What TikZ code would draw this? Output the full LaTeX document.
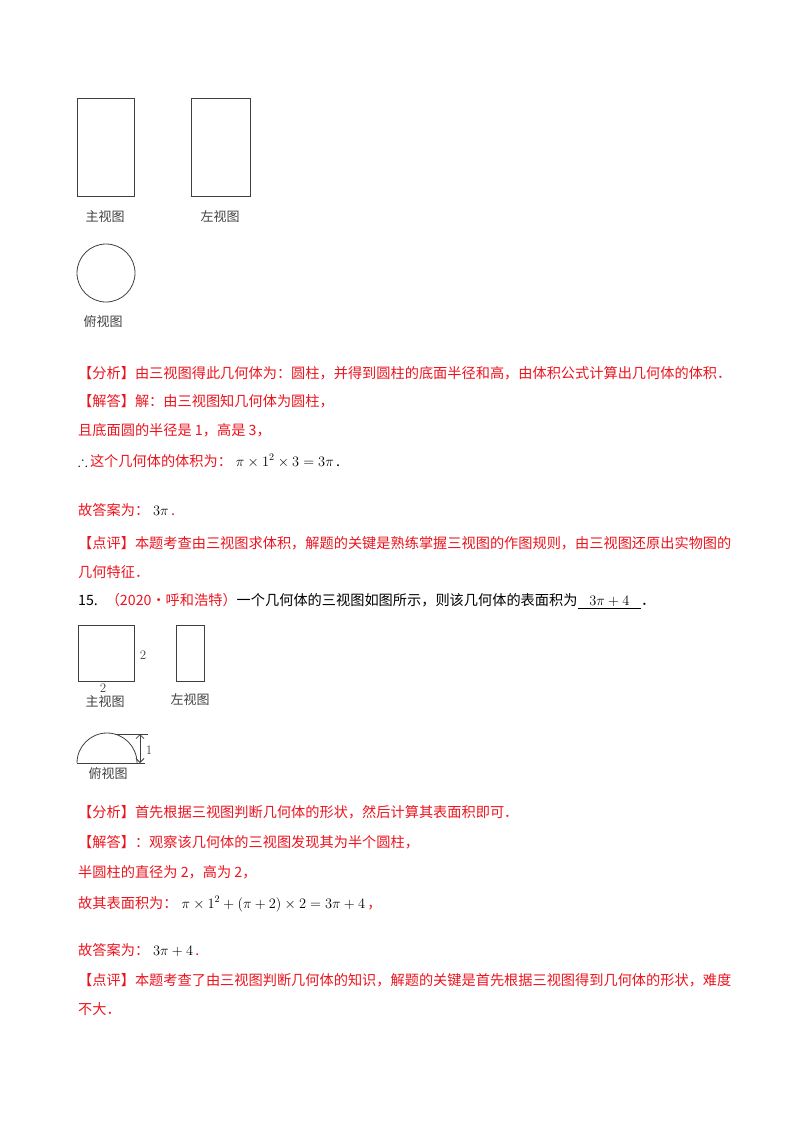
\documentclass[tikz,border=0pt]{standalone}
\usepackage{amssymb}
\usepackage{fontspec}
\newfontfamily\cjk{Noto Sans CJK SC}
\usetikzlibrary{arrows.meta}
\definecolor{ared}{RGB}{235,20,30}
\begin{document}
\begin{tikzpicture}[x=1pt,y=-1pt,
  txt/.style={anchor=base west,inner sep=0,font=\fontsize{14.2}{17}\selectfont\cjk},
  rtxt/.style={txt,text=ared},
  lab/.style={inner sep=0,font=\fontsize{13}{15}\selectfont\cjk,text=black!75},
  fig/.style={draw=black!75,line width=0.8pt}]
\useasboundingbox (0,0) rectangle (800,1132);
% figure 1
\node[fig,minimum width=57,minimum height=98,inner sep=0] (f1) at (105.5,147) {};
\node[fig,minimum width=59,minimum height=98,inner sep=0] (l1) at (220.5,147) {};
\node[lab] (t1) at (105,217) {主视图};
\node[lab] (t2) at (220,217) {左视图};
\node[fig,circle,minimum size=58,inner sep=0] (c1) at (106,273) {};
\node[lab] (t3) at (103,322) {俯视图};
% text block 1
\node[rtxt] (a1) at (78,378) {【分析】由三视图得此几何体为：圆柱，并得到圆柱的底面半径和高，由体积公式计算出几何体的体积．};
\node[rtxt] (a2) at (78,406) {【解答】解：由三视图知几何体为圆柱，};
\node[rtxt] (a3) at (78,435) {且底面圆的半径是 1，高是 3，};
\node[txt] (a4) at (78,466) {$\therefore$\,\textcolor{ared}{这个几何体的体积为：}\;$\pi\times1^2\times3=3\pi$\,.};
\node[rtxt] (a5) at (78,515) {故答案为：\;\textcolor{black}{$3\pi$}\,.};
\node[rtxt] (a6) at (78,548) {【点评】本题考查由三视图求体积，解题的关键是熟练掌握三视图的作图规则，由三视图还原出实物图的};
\node[rtxt] (a7) at (78,577) {几何特征．};
\node[txt] (q) at (78,605) {15.\;\;\textcolor{ared}{（2020•呼和浩特）}一个几何体的三视图如图所示，则该几何体的表面积为\underline{\;\;\;$3\pi+4$\;\;\;}．};
% figure 2
\node[fig,minimum width=56,minimum height=56,inner sep=0] (f2) at (106,653) {};
\node[inner sep=0,font=\fontsize{13}{15}\selectfont,text=black!75] (d1) at (143,655) {2};
\node[inner sep=0,font=\fontsize{13}{15}\selectfont,text=black!75] (d2) at (103,688) {2};
\node[fig,minimum width=28,minimum height=56,inner sep=0] (l2) at (190,653) {};
\node[lab] (t4) at (105,702) {主视图};
\node[lab] (t5) at (190,700) {左视图};
\coordinate (bl) at (77,763);
\coordinate (br) at (145,763);
\coordinate (tl) at (115,734);
\coordinate (tr) at (148,734);
\coordinate (ab) at (140,763);
\coordinate (at) at (140,734);
\draw[fig] (bl) -- (br);
\draw[fig] (bl) arc[start angle=180,end angle=360,radius=30];
\draw[fig] (tl) -- (tr);
\draw[fig,{Straight Barb[length=4pt]}-{Straight Barb[length=4pt]}] (at) -- (ab);
\node[inner sep=0,font=\fontsize{13}{15}\selectfont,text=black!75] (d3) at (149,750) {1};
\node[lab] (t6) at (108,774) {俯视图};
% text block 2
\node[rtxt] (b1) at (78,817) {【分析】首先根据三视图判断几何体的形状，然后计算其表面积即可．};
\node[rtxt] (b2) at (78,847) {【解答】：观察该几何体的三视图发现其为半个圆柱，};
\node[rtxt] (b3) at (78,877) {半圆柱的直径为 2，高为 2，};
\node[rtxt] (b4) at (78,908) {故其表面积为：\;\textcolor{black}{$\pi\times1^2+(\pi+2)\times2=3\pi+4$}\,，};
\node[rtxt] (b5) at (78,955) {故答案为：\;\textcolor{black}{$3\pi+4$}\,.};
\node[rtxt] (b6) at (78,985) {【点评】本题考查了由三视图判断几何体的知识，解题的关键是首先根据三视图得到几何体的形状，难度};
\node[rtxt] (b7) at (78,1014) {不大．};
\end{tikzpicture}
\end{document}
